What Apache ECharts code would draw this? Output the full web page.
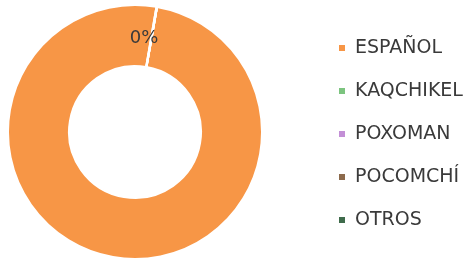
<!DOCTYPE html>
<html>
<head>
<meta charset="utf-8">
<script src="https://cdn.jsdelivr.net/npm/echarts@6/dist/echarts.min.js"></script>
<style>html,body{margin:0;padding:0;background:#fff}#c{width:473px;height:260px}</style>
</head>
<body>
<div id="c"></div>
<script>
const categories = ['ESPAÑOL', 'KAQCHIKEL', 'POXOMAN', 'POCOMCHÍ', 'OTROS'];
const values = [99.92, 0.08, 0, 0, 0];
const colors = ['#F79646', '#7CC47F', '#C38FD6', '#8C6A4C', '#3F6B4B'];
const labelShown = [false, true, false, false, false];

const chart = echarts.init(document.getElementById('c'), null, {renderer: 'canvas'});
chart.setOption({
  animation: false,
  color: colors,
  legend: {
    orient: 'vertical',
    left: 332,
    top: 33,
    icon: 'rect',
    itemWidth: 8,
    itemHeight: 8,
    itemGap: 23,
    textStyle: {fontFamily: 'DejaVu Sans', fontSize: 19, color: '#3a3a3a', lineHeight: 20, padding: [0, 0, 0, 4]},
    data: categories
  },
  series: [{
    type: 'pie',
    center: [135, 132],
    radius: [66, 127],
    startAngle: 80,
    clockwise: true,
    avoidLabelOverlap: false,
    itemStyle: {borderColor: '#fff', borderWidth: 2},
    label: {
      position: 'inside',
      fontFamily: 'DejaVu Sans',
      fontSize: 18,
      color: '#3a3a3a',
      offset: [-8, 4],
      formatter: p => Math.round(p.percent) + '%'
    },
    labelLine: {show: false},
    data: categories.map((n, i) => ({name: n, value: values[i], label: {show: labelShown[i]}}))
  }]
});
</script>
</body>
</html>
